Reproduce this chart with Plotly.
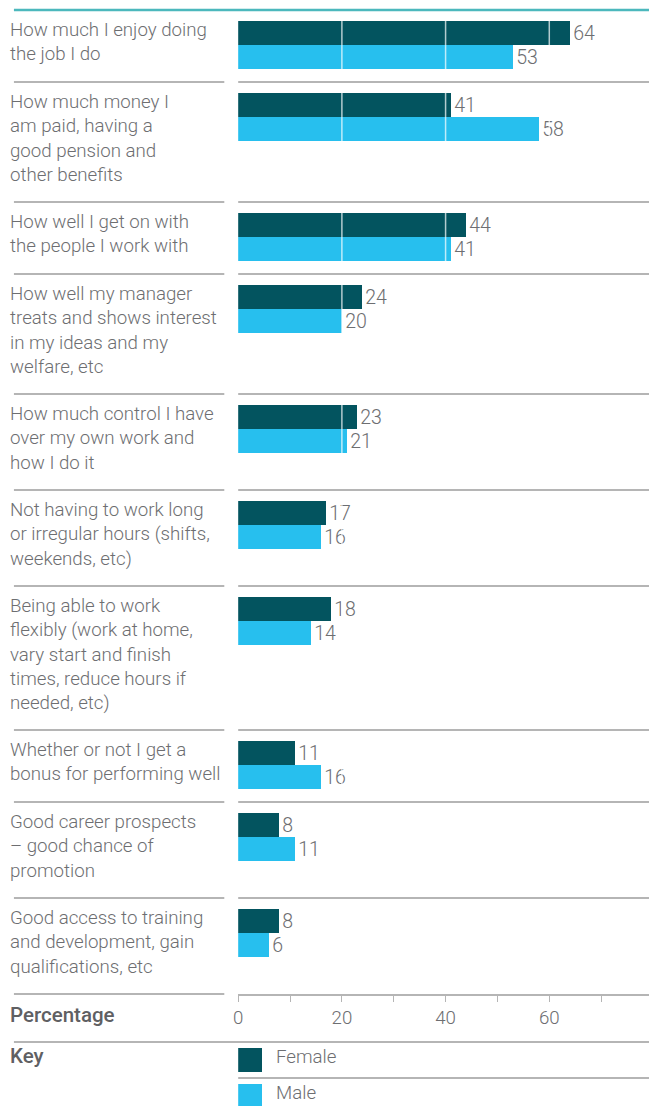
import plotly.graph_objects as go

# ---- data ----
categories = [
    "How much I enjoy doing<br>the job I do",
    "How much money I<br>am paid, having a<br>good pension and<br>other benefits",
    "How well I get on with<br>the people I work with",
    "How well my manager<br>treats and shows interest<br>in my ideas and my<br>welfare, etc",
    "How much control I have<br>over my own work and<br>how I do it",
    "Not having to work long<br>or irregular hours (shifts,<br>weekends, etc)",
    "Being able to work<br>flexibly (work at home,<br>vary start and finish<br>times, reduce hours if<br>needed, etc)",
    "Whether or not I get a<br>bonus for performing well",
    "Good career prospects<br>– good chance of<br>promotion",
    "Good access to training<br>and development, gain<br>qualifications, etc",
]
female = [64, 41, 44, 24, 23, 17, 18, 11, 8, 8]
male = [53, 58, 41, 20, 21, 16, 14, 16, 11, 6]
tick_values = [0, 20, 40, 60]
tick_labels = ["0", "20", "40", "60"]
grid_values = [20, 40, 60]
series_names = ["Female", "Male"]

# ---- style ----
W, H = 649, 1106
TOP, BOTTOM = 10, 994          # plot area in pixels
LINE = 24                      # text line height / bar thickness
C_FEMALE = "#03545f"
C_MALE = "#27bfee"
C_TEXT = "#6d6e71"
C_SEP = "#b5b5b5"
C_TEAL = "#4cb8bd"
FONT = "Roboto"
FS = 18.7
X0_PX = 237                    # x pixel of value 0
LEFT_PX = 9
TEXT_PX = 3
LEFT_END_PX = 221

def px_x(p):
    return p / W

def px_y(p):
    return (BOTTOM - p) / (BOTTOM - TOP)

# block layout from number of label lines
nlines = [c.count("<br>") + 1 for c in categories]
seps = [TOP]
for n in nlines:
    seps.append(seps[-1] + LINE * (n + 1))
y_female = [s + 11 + LINE / 2 for s in seps[:-1]]
y_male = [s + 11 + LINE * 1.5 for s in seps[:-1]]

fig = go.Figure()
for name, vals, ys, col in [(series_names[0], female, y_female, C_FEMALE),
                            (series_names[1], male, y_male, C_MALE)]:
    fig.add_trace(go.Bar(
        x=vals, y=ys, orientation="h", width=LINE, name=name,
        marker=dict(color=col, line=dict(width=0)),
        text=[str(v) for v in vals], textposition="outside",
        textfont=dict(family=FONT, size=19.5, color=C_TEXT, weight=300),
        cliponaxis=False, showlegend=False,
    ))

shapes = []
# white gridlines over the bars
for g in grid_values:
    shapes.append(dict(type="line", xref="x", yref="paper",
                       x0=g, x1=g, y0=0, y1=1,
                       line=dict(color="rgba(255,255,255,0.7)", width=1.5), layer="above"))
# top teal line
shapes.append(dict(type="line", xref="paper", yref="paper",
                   x0=px_x(LEFT_PX), x1=1, y0=px_y(TOP), y1=px_y(TOP),
                   line=dict(color=C_TEAL, width=2.5), layer="above"))
# separators
for s in seps[1:]:
    shapes.append(dict(type="line", xref="paper", yref="paper",
                       x0=px_x(LEFT_PX), x1=px_x(LEFT_END_PX), y0=px_y(s), y1=px_y(s),
                       line=dict(color=C_SEP, width=2), layer="above"))
    if s != seps[-1]:
        shapes.append(dict(type="line", xref="paper", yref="paper",
                           x0=px_x(X0_PX - 2), x1=1, y0=px_y(s), y1=px_y(s),
                           line=dict(color=C_SEP, width=2), layer="above"))
# key separators
shapes.append(dict(type="line", xref="paper", yref="paper",
                   x0=px_x(LEFT_PX), x1=1, y0=px_y(1042), y1=px_y(1042),
                   line=dict(color=C_SEP, width=2), layer="above"))
shapes.append(dict(type="line", xref="paper", yref="paper",
                   x0=px_x(X0_PX - 2), x1=1, y0=px_y(1078), y1=px_y(1078),
                   line=dict(color=C_SEP, width=2), layer="above"))
# key swatches
for col, top in [(C_FEMALE, 1048), (C_MALE, 1084)]:
    shapes.append(dict(type="rect", xref="paper", yref="paper",
                       x0=px_x(X0_PX - 2), x1=px_x(X0_PX + 22),
                       y0=px_y(top), y1=px_y(top + 24),
                       fillcolor=col, line=dict(width=0), layer="above"))

annotations = []
for cat, s, n in zip(categories, seps[:-1], nlines):
    yc = s + 20 + 12 * (n - 1)
    annotations.append(dict(text=cat, xref="paper", yref="paper",
                            x=px_x(TEXT_PX), y=px_y(yc), xanchor="left", yanchor="middle",
                            align="left", showarrow=False,
                            font=dict(family=FONT, size=FS, color=C_TEXT, weight=300)))
for txt, yc in [("Percentage", 1015), ("Key", 1056)]:
    annotations.append(dict(text=txt, xref="paper", yref="paper",
                            x=px_x(TEXT_PX), y=px_y(yc), xanchor="left", yanchor="middle",
                            showarrow=False,
                            font=dict(family=FONT, size=20.5, color="#5f6063", weight=500)))
for txt, yc in [(series_names[0], 1057), (series_names[1], 1093)]:
    annotations.append(dict(text=txt, xref="paper", yref="paper",
                            x=px_x(271), y=px_y(yc), xanchor="left", yanchor="middle",
                            showarrow=False,
                            font=dict(family=FONT, size=FS, color=C_TEXT, weight=300)))

fig.update_layout(
    width=W, height=H,
    margin=dict(l=0, r=0, t=TOP, b=H - BOTTOM, pad=0),
    paper_bgcolor="white", plot_bgcolor="white",
    barmode="overlay", bargap=0,
    shapes=shapes, annotations=annotations,
    xaxis=dict(domain=[px_x(X0_PX - 2), 1], range=[0, (W - X0_PX) / 5.2],
               tickvals=tick_values, ticktext=tick_labels,
               showgrid=False, zeroline=False,
               showline=True, linecolor=C_SEP, linewidth=2,
               ticks="outside", ticklen=6, tickcolor=C_SEP, tickwidth=1.2,
               minor=dict(dtick=10, tick0=0, ticks="outside", ticklen=6,
                          tickcolor=C_SEP, tickwidth=1.2, showgrid=False),
               tickfont=dict(family=FONT, size=FS, color=C_TEXT, weight=300),
               fixedrange=True),
    yaxis=dict(range=[BOTTOM, TOP], visible=False, fixedrange=True),
    showlegend=False,
)

fig.write_html("out.html", config={"displayModeBar": False},
               post_script="document.body.style.margin='0';document.body.style.overflow='hidden';")
